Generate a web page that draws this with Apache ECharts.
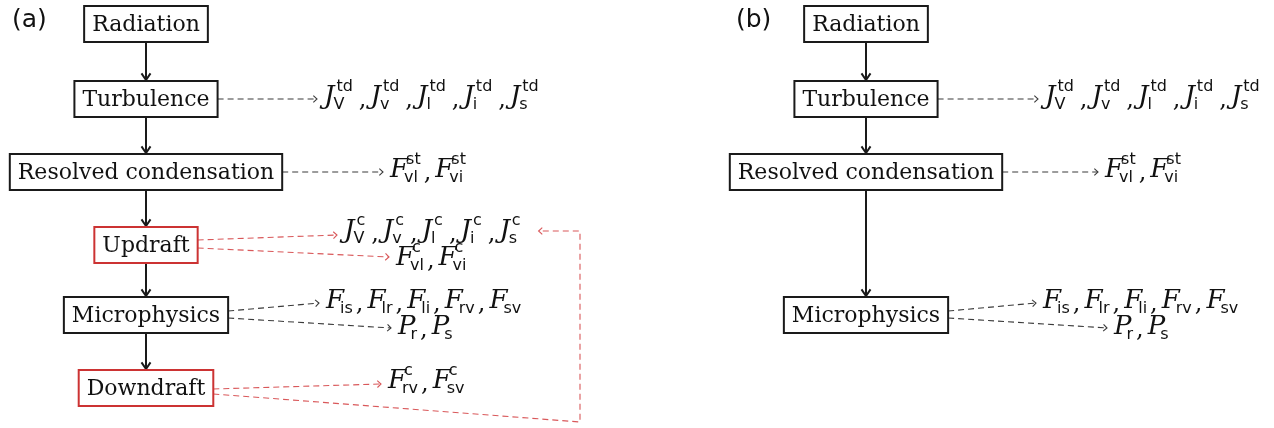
<!DOCTYPE html>
<html><head><meta charset="utf-8">
<script src="https://cdn.jsdelivr.net/npm/echarts@6/dist/echarts.min.js"></script>
<style>html,body{margin:0;padding:0;background:#fff}#c{width:1274px;height:428px}</style>
</head><body><div id="c"></div>
<script>
// ---------------- data ----------------
const panelLabels = ['(a)', '(b)'];
const processesA = ['Radiation', 'Turbulence', 'Resolved condensation', 'Updraft', 'Microphysics', 'Downdraft'];
const processesB = ['Radiation', 'Turbulence', 'Resolved condensation', 'Microphysics'];
const convectiveProcesses = ['Updraft', 'Downdraft'];
const outputsA = [
  ['Turbulence', 'J_V^td,J_v^td,J_l^td,J_i^td,J_s^td'],
  ['Resolved condensation', 'F_vl^st,F_vi^st'],
  ['Updraft', 'J_V^c,J_v^c,J_l^c,J_i^c,J_s^c'],
  ['Updraft', 'F_vl^c,F_vi^c'],
  ['Microphysics', 'F_is,F_lr,F_li,F_rv,F_sv'],
  ['Microphysics', 'P_r,P_s'],
  ['Downdraft', 'F_rv^c,F_sv^c']
];
const outputsB = [
  ['Turbulence', 'J_V^td,J_v^td,J_l^td,J_i^td,J_s^td'],
  ['Resolved condensation', 'F_vl^st,F_vi^st'],
  ['Microphysics', 'F_is,F_lr,F_li,F_rv,F_sv'],
  ['Microphysics', 'P_r,P_s']
];
const feedbackLink = ['Downdraft', 'J_V^c,J_v^c,J_l^c,J_i^c,J_s^c'];

// ---------------- layout (kept apart from data) ----------------
const panelCenterX = [146, 866];
const panelLabelX = [12, 736];
const panelLabelY = 20;
const rowCenterY = {'Radiation': 24, 'Turbulence': 99, 'Resolved condensation': 172, 'Updraft': 245, 'Microphysics': 315, 'Downdraft': 388};
// [start y offset on box edge, arrow tip y, text x, text center y]
const outputLayoutA = [[0, 99, 324, 97], [0, 172, 390, 170], [-5, 235, 344, 231], [3, 257, 396, 258], [-4, 303, 326, 301], [3, 328, 398, 327], [1, 384, 388, 381]];
const outputLayoutB = [[0, 99, 1045, 97], [0, 172, 1105, 170], [-4, 303, 1043, 301], [3, 328, 1114, 327]];
const feedbackLayout = {startOffset: 6, cornerX: 580, bottomY: 422, tipGap: 12, tipY: 231};

const BOX_FONT = '22px "DejaVu Serif"';
const BASE_FONT = 'italic 26px "DejaVu Serif"';
const SCRIPT_FONT = '16px "DejaVu Sans"';
const COMMA_FONT = '24px "DejaVu Serif"';
const LABEL_FONT = '25px "DejaVu Sans"';
const BOX_PAD = 8, BOX_H = 36;
const BLACK = '#1a1a1a', RED = '#cc3333', DASH_BLACK = '#3a3a3a', DASH_RED = '#d9585a';
// per-letter script placement (mimics italic correction of the math font)
const SUP_SHIFT = {J: 1, F: 0, P: 0};
const BASE_TIGHTEN = {J: -2, F: 1, P: 2};
const TERM_EXTRA = {J: 3, F: 0, P: 0};

// ---------------- helpers ----------------
const mctx = document.createElement('canvas').getContext('2d');
function tw(text, font) { mctx.font = font; return mctx.measureText(text).width; }
function parseFormula(s) {
  return s.split(',').map(t => {
    const m = t.match(/^([A-Za-z])(?:_([A-Za-z]+))?(?:\^([A-Za-z]+))?$/);
    return {base: m[1], sub: m[2] || '', sup: m[3] || ''};
  });
}
function formulaPieces(s) {
  const pieces = []; let x = 0;
  parseFormula(s).forEach((t, i) => {
    if (i > 0) { pieces.push({text: ',', font: COMMA_FONT, dx: x, dy: 4}); x += tw(',', COMMA_FONT) + 4; }
    pieces.push({text: t.base, font: BASE_FONT, dx: x, dy: 0});
    const bw = tw(t.base, BASE_FONT) - (BASE_TIGHTEN[t.base] || 0);
    const ss = SUP_SHIFT[t.base] || 0;
    let sw = 0;
    if (t.sup) { pieces.push({text: t.sup, font: SCRIPT_FONT, dx: x + bw + 1 + ss - 2, dy: -10}); sw = Math.max(sw, tw(t.sup, SCRIPT_FONT) - 1 + ss); }
    if (t.sub) { pieces.push({text: t.sub, font: SCRIPT_FONT, dx: x + bw - 3, dy: 8}); sw = Math.max(sw, tw(t.sub, SCRIPT_FONT) - 3); }
    x += bw + sw + 3 + (TERM_EXTRA[t.base] || 0);
  });
  return {pieces, width: x};
}

// ---------------- build elements ----------------
const boxes = [];
const flows = [];
const links = [];
const formulas = [];
const panels = [processesA, processesB];
const outputs = [outputsA, outputsB];
const outLayouts = [outputLayoutA, outputLayoutB];

panels.forEach((steps, p) => {
  const cx = panelCenterX[p];
  const byName = {};
  steps.forEach(name => {
    const b = {label: name, cx, cy: rowCenterY[name], w: tw(name, BOX_FONT) + 2 * BOX_PAD, h: BOX_H, red: p === 0 && convectiveProcesses.includes(name)};
    boxes.push(b); byName[name] = b;
  });
  for (let i = 0; i + 1 < steps.length; i++) {
    const a = byName[steps[i]], b = byName[steps[i + 1]];
    flows.push([[cx, a.cy + a.h / 2], [cx, b.cy - b.h / 2]]);
  }
  outputs[p].forEach((o, k) => {
    const b = byName[o[0]], L = outLayouts[p][k];
    const f = formulaPieces(o[1]);
    formulas.push({x: L[2], y: L[3], pieces: f.pieces, width: f.width, key: o[1], panel: p});
    links.push({pts: [[b.cx + b.w / 2, b.cy + L[0]], [L[2] - 7, L[1]]], color: b.red ? DASH_RED : DASH_BLACK});
  });
  if (p === 0) {
    const b = byName[feedbackLink[0]];
    const target = formulas.find(f => f.key === feedbackLink[1] && f.panel === 0);
    const tipX = target.x + target.width + feedbackLayout.tipGap;
    links.push({pts: [[b.cx + b.w / 2, b.cy + feedbackLayout.startOffset], [feedbackLayout.cornerX, feedbackLayout.bottomY], [feedbackLayout.cornerX, feedbackLayout.tipY], [tipX, feedbackLayout.tipY]], color: DASH_RED});
  }
});

function chevron(p0, p1, len, spread) {
  const ang = Math.atan2(p1[1] - p0[1], p1[0] - p0[0]);
  const a1 = ang + Math.PI - spread, a2 = ang + Math.PI + spread;
  return [[p1[0] + len * Math.cos(a1), p1[1] + len * Math.sin(a1)], p1, [p1[0] + len * Math.cos(a2), p1[1] + len * Math.sin(a2)]];
}

// ---------------- chart ----------------
const chart = echarts.init(document.getElementById('c'), null, {renderer: 'canvas', width: 1274, height: 428});
const option = {
  animation: false,
  backgroundColor: '#ffffff',
  grid: {left: 0, right: 0, top: 0, bottom: 0},
  xAxis: {type: 'value', min: 0, max: 1274, show: false},
  yAxis: {type: 'value', min: 0, max: 428, inverse: true, show: false},
  series: [
    { // dashed output links
      type: 'custom', clip: false, z: 1,
      data: links.map((l, i) => [l.pts[0][0], l.pts[0][1], i]),
      encode: {x: 0, y: 1},
      renderItem: (params, api) => {
        const l = links[params.dataIndex];
        const pts = l.pts.map(q => api.coord(q));
        const n = pts.length;
        return {type: 'group', children: [
          {type: 'polyline', shape: {points: pts}, style: {stroke: l.color, lineWidth: 1.1, lineDash: [6, 4], fill: null}},
          {type: 'polyline', shape: {points: chevron(pts[n - 2], pts[n - 1], 5, 0.75)}, style: {stroke: l.color, lineWidth: 1.1, fill: null}}
        ]};
      }
    },
    { // solid flow arrows
      type: 'custom', clip: false, z: 2,
      data: flows.map((f, i) => [f[0][0], f[0][1], i]),
      encode: {x: 0, y: 1},
      renderItem: (params, api) => {
        const f = flows[params.dataIndex];
        const a = api.coord(f[0]), b = api.coord(f[1]);
        return {type: 'group', children: [
          {type: 'line', shape: {x1: a[0], y1: a[1], x2: b[0], y2: b[1] - 1}, style: {stroke: BLACK, lineWidth: 2}},
          {type: 'polyline', shape: {points: chevron(a, [b[0], b[1] - 1], 8, 0.6)}, style: {stroke: BLACK, lineWidth: 2, fill: null}}
        ]};
      }
    },
    { // process boxes
      type: 'custom', clip: false, z: 3,
      data: boxes.map((b, i) => [b.cx, b.cy, i]),
      encode: {x: 0, y: 1},
      renderItem: (params, api) => {
        const b = boxes[params.dataIndex];
        const p = api.coord([b.cx, b.cy]);
        return {type: 'group', children: [
          {type: 'rect', shape: {x: p[0] - b.w / 2, y: p[1] - b.h / 2, width: b.w, height: b.h}, style: {fill: '#fff', stroke: b.red ? RED : BLACK, lineWidth: 2}},
          {type: 'text', x: p[0], y: p[1] + 1, style: {text: b.label, font: BOX_FONT, fill: '#111', align: 'center', verticalAlign: 'middle'}}
        ]};
      }
    },
    { // formulas
      type: 'custom', clip: false, z: 4,
      data: formulas.map((f, i) => [f.x, f.y, i]),
      encode: {x: 0, y: 1},
      renderItem: (params, api) => {
        const f = formulas[params.dataIndex];
        const p = api.coord([f.x, f.y]);
        return {type: 'group', children: f.pieces.map(pc => ({
          type: 'text', x: p[0] + pc.dx, y: p[1] + pc.dy,
          style: {text: pc.text, font: pc.font, fill: '#111', align: 'left', verticalAlign: 'middle'}
        }))};
      }
    },
    { // panel labels
      type: 'custom', clip: false, z: 5,
      data: panelLabels.map((t, i) => [panelLabelX[i], panelLabelY, i]),
      encode: {x: 0, y: 1},
      renderItem: (params, api) => {
        const p = api.coord([panelLabelX[params.dataIndex], panelLabelY]);
        return {type: 'text', x: p[0], y: p[1], style: {text: panelLabels[params.dataIndex], font: LABEL_FONT, fill: '#111', align: 'left', verticalAlign: 'middle'}};
      }
    }
  ]
};
chart.setOption(option);
</script>
</body></html>
